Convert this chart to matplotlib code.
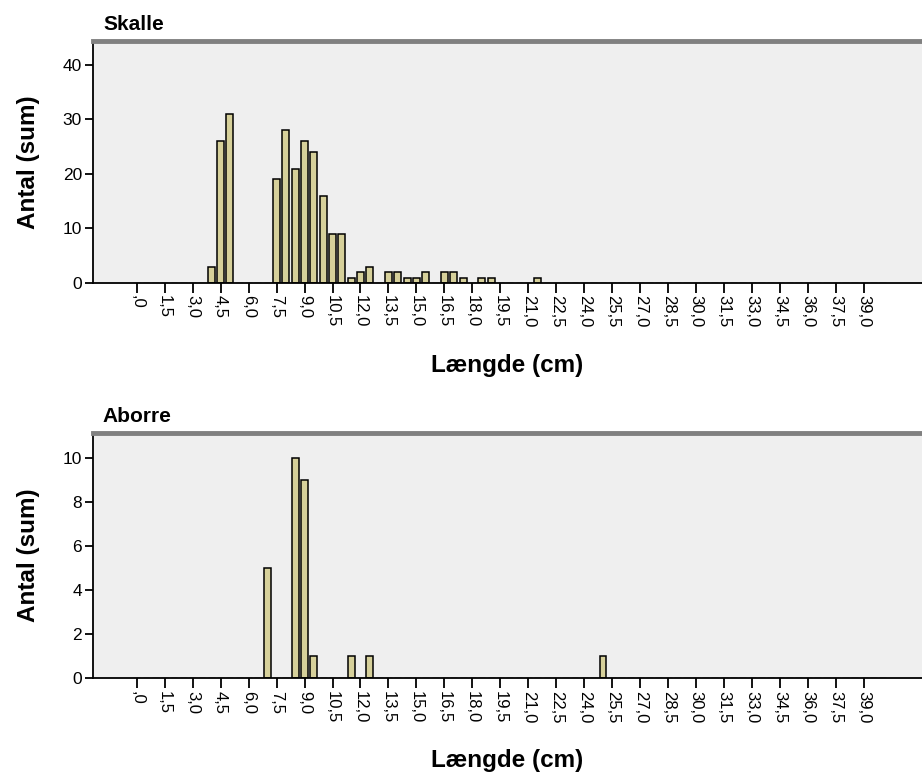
import numpy as np
import matplotlib.pyplot as plt

plt.rcParams['font.family'] = ['Liberation Sans', 'DejaVu Sans']

# length categories on the axis (cm), 0 to 40 in half cm steps
categories = np.arange(0, 40.5, 0.5)
tick_values = np.arange(0, 39.5, 1.5)
tick_labels = [('%.1f' % v).replace('.', ',').lstrip('0') if v < 1 else ('%.1f' % v).replace('.', ',')
               for v in tick_values]

skalle_length = [4.0, 4.5, 5.0, 7.5, 8.0, 8.5, 9.0, 9.5, 10.0, 10.5, 11.0, 11.5, 12.0, 12.5,
                 13.5, 14.0, 14.5, 15.0, 15.5, 16.5, 17.0, 17.5, 18.5, 19.0, 21.5]
skalle_count = [3, 26, 31, 19, 28, 21, 26, 24, 16, 9, 9, 1, 2, 3,
                2, 2, 1, 1, 2, 2, 2, 1, 1, 1, 1]

aborre_length = [7.0, 8.5, 9.0, 9.5, 11.5, 12.5, 25.0]
aborre_count = [5, 10, 9, 1, 1, 1, 1]

bar_color = '#d6d09a'


def draw_panel(ax, title, lengths, counts, yticks, ytop, xlab_y):
    ax.set_facecolor('#efefef')
    # zero-height bars for every category (gives the dashed baseline)
    ax.bar(categories, np.zeros(len(categories)), width=0.37, color=bar_color,
           edgecolor='#333333', linewidth=1.0)
    ax.bar(lengths, counts, width=0.37, color=bar_color, edgecolor='black', linewidth=1.1)
    ax.set_xlim(-2.34, 42.1)
    ax.set_ylim(0, ytop)
    ax.set_xticks(tick_values)
    ax.set_xticklabels(tick_labels, rotation=270, fontsize=12)
    ax.set_yticks(yticks)
    ax.tick_params(axis='y', labelsize=12.5, length=6, width=1.3, pad=2)
    ax.tick_params(axis='x', length=7, width=1.3, pad=2)
    ax.spines['right'].set_visible(False)
    ax.spines['top'].set_color('#808080')
    ax.spines['top'].set_linewidth(3.5)
    ax.spines['left'].set_linewidth(1.3)
    ax.spines['bottom'].set_linewidth(1.3)
    ax.set_ylabel('Antal (sum)', fontsize=17.5, fontweight='bold', va='center')
    ax.yaxis.set_label_coords(-0.0784, 0.5)
    ax.set_xlabel('Længde (cm)', fontsize=17.5, fontweight='bold', va='center')
    ax.xaxis.set_label_coords(0.5, xlab_y)
    ax.text(0.012, 1.03, title, transform=ax.transAxes, fontsize=15,
            fontweight='bold', ha='left', va='bottom')


fig = plt.figure(figsize=(9.22, 7.74), dpi=100)
ax1 = fig.add_axes([0.1009, 0.6344, 0.899, 0.3127])
ax2 = fig.add_axes([0.1009, 0.124, 0.899, 0.3165])

draw_panel(ax1, 'Skalle', skalle_length, skalle_count, [0, 10, 20, 30, 40], 44.4, -0.343)
draw_panel(ax2, 'Aborre', aborre_length, aborre_count, [0, 2, 4, 6, 8, 10], 11.15, -0.335)

fig.savefig('out.png', dpi=100)
